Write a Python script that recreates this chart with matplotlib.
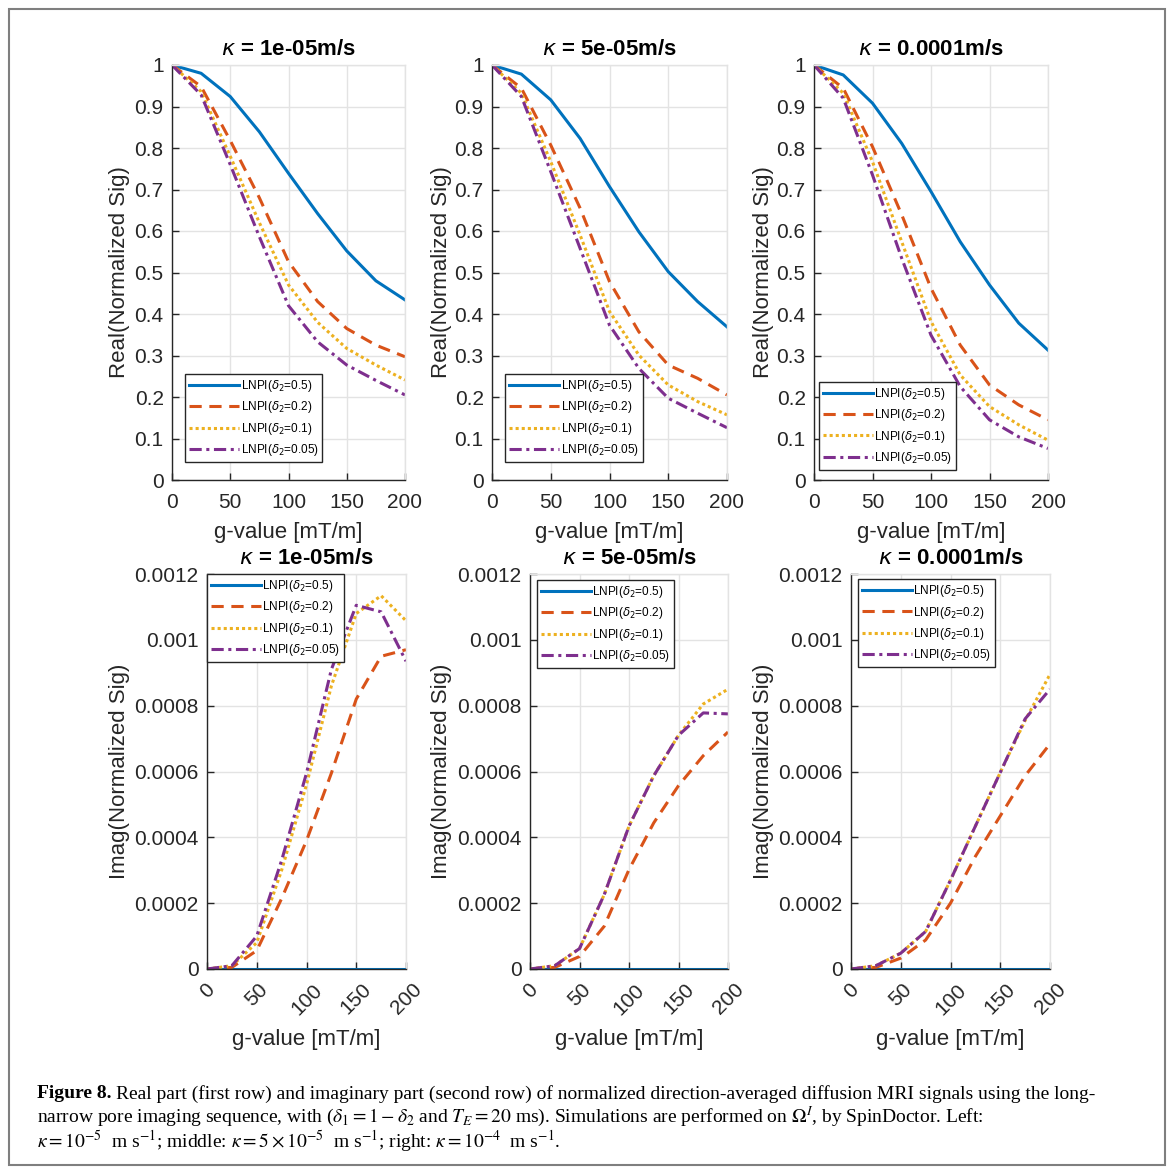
import matplotlib
matplotlib.use("Agg")
import matplotlib.pyplot as plt
from matplotlib.patches import Rectangle

# ---------------- data ----------------
g_values = [0, 25, 50, 75, 100, 125, 150, 175, 200]
kappa_titles = [r"$\kappa$ = 1e-05m/s", r"$\kappa$ = 5e-05m/s", r"$\kappa$ = 0.0001m/s"]
series_labels = [r"LNPI($\delta_2$=0.5)", r"LNPI($\delta_2$=0.2)",
                 r"LNPI($\delta_2$=0.1)", r"LNPI($\delta_2$=0.05)"]

# real part, kappa = 1e-5
real_k1_d05 = [1, 0.980, 0.924, 0.839, 0.739, 0.642, 0.552, 0.480, 0.434]
real_k1_d02 = [1, 0.948, 0.818, 0.680, 0.526, 0.430, 0.365, 0.325, 0.297]
real_k1_d01 = [1, 0.936, 0.780, 0.620, 0.470, 0.380, 0.317, 0.277, 0.241]
real_k1_d005 = [1, 0.928, 0.760, 0.586, 0.420, 0.333, 0.277, 0.240, 0.205]
# real part, kappa = 5e-5
real_k2_d05 = [1, 0.978, 0.916, 0.823, 0.707, 0.598, 0.502, 0.430, 0.369]
real_k2_d02 = [1, 0.944, 0.807, 0.655, 0.478, 0.357, 0.277, 0.245, 0.205]
real_k2_d01 = [1, 0.932, 0.767, 0.590, 0.406, 0.301, 0.229, 0.189, 0.157]
real_k2_d005 = [1, 0.924, 0.743, 0.558, 0.373, 0.269, 0.197, 0.161, 0.126]
# real part, kappa = 1e-4
real_k3_d05 = [1, 0.976, 0.908, 0.811, 0.695, 0.574, 0.470, 0.378, 0.313]
real_k3_d02 = [1, 0.944, 0.803, 0.639, 0.462, 0.325, 0.229, 0.181, 0.145]
real_k3_d01 = [1, 0.932, 0.767, 0.574, 0.382, 0.253, 0.177, 0.133, 0.096]
real_k3_d005 = [1, 0.920, 0.735, 0.534, 0.349, 0.225, 0.145, 0.104, 0.076]

# imaginary part, kappa = 1e-5
imag_k1_d05 = [0, 0, 0, 0, 0, 0, 0, 0, 0]
imag_k1_d02 = [0, 0.000005, 0.000056, 0.000214, 0.00039, 0.000595, 0.00082, 0.00095, 0.00097]
imag_k1_d01 = [0, 0.00001, 0.00008, 0.00030, 0.00056, 0.00086, 0.00108, 0.001134, 0.001058]
imag_k1_d005 = [0, 0.00001, 0.0001, 0.00033, 0.000595, 0.00091, 0.001105, 0.001085, 0.000935]
# imaginary part, kappa = 5e-5
imag_k2_d05 = [0, 0, 0, 0, 0, 0, 0, 0, 0]
imag_k2_d02 = [0, 0.000005, 0.000038, 0.00013, 0.000302, 0.000444, 0.000557, 0.000648, 0.00072]
imag_k2_d01 = [0, 0.00001, 0.000062, 0.000226, 0.000434, 0.000587, 0.00071, 0.000805, 0.00085]
imag_k2_d005 = [0, 0.00001, 0.000062, 0.000226, 0.000434, 0.000587, 0.00071, 0.000778, 0.000775]
# imaginary part, kappa = 1e-4
imag_k3_d05 = [0, 0, 0, 0, 0, 0, 0, 0, 0]
imag_k3_d02 = [0, 0.000005, 0.000033, 0.000088, 0.0002, 0.000342, 0.000465, 0.000587, 0.000684]
imag_k3_d01 = [0, 0.00001, 0.000048, 0.000114, 0.00027, 0.000434, 0.000597, 0.000755, 0.000895]
imag_k3_d005 = [0, 0.00001, 0.000048, 0.000114, 0.00027, 0.000434, 0.000597, 0.00076, 0.00085]

real_ticks = [0, 0.1, 0.2, 0.3, 0.4, 0.5, 0.6, 0.7, 0.8, 0.9, 1]
real_ticklabels = ["0", "0.1", "0.2", "0.3", "0.4", "0.5", "0.6", "0.7", "0.8", "0.9", "1"]
imag_ticks = [0, 0.0002, 0.0004, 0.0006, 0.0008, 0.001, 0.0012]
imag_ticklabels = ["0", "0.0002", "0.0004", "0.0006", "0.0008", "0.001", "0.0012"]
g_ticks = [0, 50, 100, 150, 200]
g_ticklabels = ["0", "50", "100", "150", "200"]

real_sets = [
    [real_k1_d05, real_k1_d02, real_k1_d01, real_k1_d005],
    [real_k2_d05, real_k2_d02, real_k2_d01, real_k2_d005],
    [real_k3_d05, real_k3_d02, real_k3_d01, real_k3_d005],
]
imag_sets = [
    [imag_k1_d05, imag_k1_d02, imag_k1_d01, imag_k1_d005],
    [imag_k2_d05, imag_k2_d02, imag_k2_d01, imag_k2_d005],
    [imag_k3_d05, imag_k3_d02, imag_k3_d01, imag_k3_d005],
]

# ---------------- style ----------------
colors = ["#0072BD", "#D95319", "#EDB120", "#7E2F8E"]
styles = ["-", (0, (4, 2.5)), (0, (1, 1)), (0, (4, 1.5, 1, 1.5))]
dark = "#262626"
gridc = "#e3e3e3"

plt.rcParams["font.family"] = ["Liberation Sans", "DejaVu Sans"]
plt.rcParams["mathtext.fontset"] = "dejavusans"

W, H = 1171, 1167
fig = plt.figure(figsize=(W / 100, H / 100), dpi=100)


def px_axes(x0, y0, x1, y1):
    return fig.add_axes([x0 / W, 1 - y1 / H, (x1 - x0) / W, (y1 - y0) / H])


top_boxes = [(172, 65, 405, 480), (492, 65, 727, 480), (814, 65, 1048, 480)]
bot_boxes = [(207, 574, 406, 969), (530, 574, 728, 969), (851, 574, 1050, 969)]
top_leg = [(0.056, 0.043), (0.056, 0.043), (0.021, 0.024)]
bot_leg = [(0.0, 1.0), (0.035, 0.985), (0.035, 0.987)]
ylab_right = [130, 452, 774]


def style_axes(ax):
    ax.grid(True, color=gridc, lw=1.0)
    ax.set_axisbelow(True)
    for s in ["left", "bottom"]:
        ax.spines[s].set_color(dark)
        ax.spines[s].set_linewidth(1.0)
    for s in ["top", "right"]:
        ax.spines[s].set_color(gridc)
        ax.spines[s].set_linewidth(1.0)
    ax.tick_params(direction="in", length=5, width=1, color=dark,
                   labelcolor=dark, labelsize=15, pad=6)


for i in range(3):
    # ---- real row ----
    ax = px_axes(*top_boxes[i])
    style_axes(ax)
    ax.tick_params(axis="x", pad=9)
    for j in range(4):
        ax.plot(g_values, real_sets[i][j], color=colors[j], ls=styles[j], lw=2.2,
                label=series_labels[j])
    ax.set_xlim(0, 200)
    ax.set_ylim(0, 1)
    ax.set_xticks(g_ticks)
    ax.set_xticklabels(g_ticklabels)
    ax.set_yticks(real_ticks)
    ax.set_yticklabels(real_ticklabels)
    ax.set_title(kappa_titles[i], fontsize=16, fontweight="bold", color="black", pad=7)
    ax.set_xlabel("g-value [mT/m]", fontsize=16, color=dark, labelpad=7.5)
    ax.set_ylabel("Real(Normalized Sig)", fontsize=16, color=dark)
    x0, y0, x1, y1 = top_boxes[i]
    ax.yaxis.set_label_coords((ylab_right[i] - x0) / (x1 - x0), 0.5)
    leg = ax.legend(loc="lower left", bbox_to_anchor=top_leg[i], borderaxespad=0,
                    fontsize=8.5, handlelength=4.2, handletextpad=0.15,
                    labelspacing=0.45, borderpad=0.35, fancybox=False,
                    framealpha=1, edgecolor=dark)
    leg.get_frame().set_linewidth(1.0)

    # ---- imaginary row ----
    ax = px_axes(*bot_boxes[i])
    style_axes(ax)
    ax.tick_params(axis="x", pad=8)
    for j in range(4):
        ax.plot(g_values, imag_sets[i][j], color=colors[j], ls=styles[j], lw=2.2,
                label=series_labels[j])
    ax.set_xlim(0, 200)
    ax.set_ylim(0, 0.0012)
    ax.set_xticks(g_ticks)
    ax.set_xticklabels(g_ticklabels, rotation=45, ha="center")
    ax.set_yticks(imag_ticks)
    ax.set_yticklabels(imag_ticklabels)
    ax.set_title(kappa_titles[i], fontsize=16, fontweight="bold", color="black", pad=7)
    ax.set_xlabel("g-value [mT/m]", fontsize=16, color=dark, labelpad=8)
    ax.set_ylabel("Imag(Normalized Sig)", fontsize=16, color=dark)
    x0, y0, x1, y1 = bot_boxes[i]
    ax.yaxis.set_label_coords((ylab_right[i] - x0) / (x1 - x0), 0.5)
    leg = ax.legend(loc="upper left", bbox_to_anchor=bot_leg[i], borderaxespad=0,
                    fontsize=8.5, handlelength=4.2, handletextpad=0.15,
                    labelspacing=0.45, borderpad=0.35, fancybox=False,
                    framealpha=1, edgecolor=dark)
    leg.get_frame().set_linewidth(1.0)

# ---------------- outer frame ----------------
fig.patches.append(Rectangle((9 / W, 1 - 1165 / H), (1165 - 9) / W, (1165 - 9) / H,
                             transform=fig.transFigure, fill=False,
                             edgecolor="#7f7f7f", lw=1.5))

# ---------------- caption ----------------
cap_font = ["Liberation Serif", "DejaVu Serif"]
cap_size = 14.0
renderer = fig.canvas.get_renderer()
lx = 37 / W
t_bold = fig.text(lx, 1 - 1094 / H, "Figure 8.", family=cap_font, fontsize=cap_size,
                  fontweight="bold", va="center", ha="left", color="black")
bb = t_bold.get_window_extent(renderer)
fig.text((bb.x1 + 4) / W, 1 - 1094 / H,
         "Real part (first row) and imaginary part (second row) of normalized "
         "direction-averaged diffusion MRI signals using the long-",
         family=cap_font, fontsize=cap_size, va="center", ha="left", color="black")
fig.text(lx, 1 - 1116 / H,
         r"narrow pore imaging sequence, with ($\delta_1 = 1 - \delta_2$ and $T_E = 20$ ms). "
         r"Simulations are performed on $\Omega^I$, by SpinDoctor. Left:",
         family=cap_font, fontsize=cap_size, va="center", ha="left", color="black",
         math_fontfamily="stix")
fig.text(lx, 1 - 1142 / H,
         r"$\kappa = 10^{-5}$  m s$^{-1}$; middle: $\kappa = 5 \times 10^{-5}$  m s$^{-1}$; "
         r"right: $\kappa = 10^{-4}$  m s$^{-1}$.",
         family=cap_font, fontsize=cap_size, va="center", ha="left", color="black",
         math_fontfamily="stix")

fig.savefig("out.png", dpi=100)
